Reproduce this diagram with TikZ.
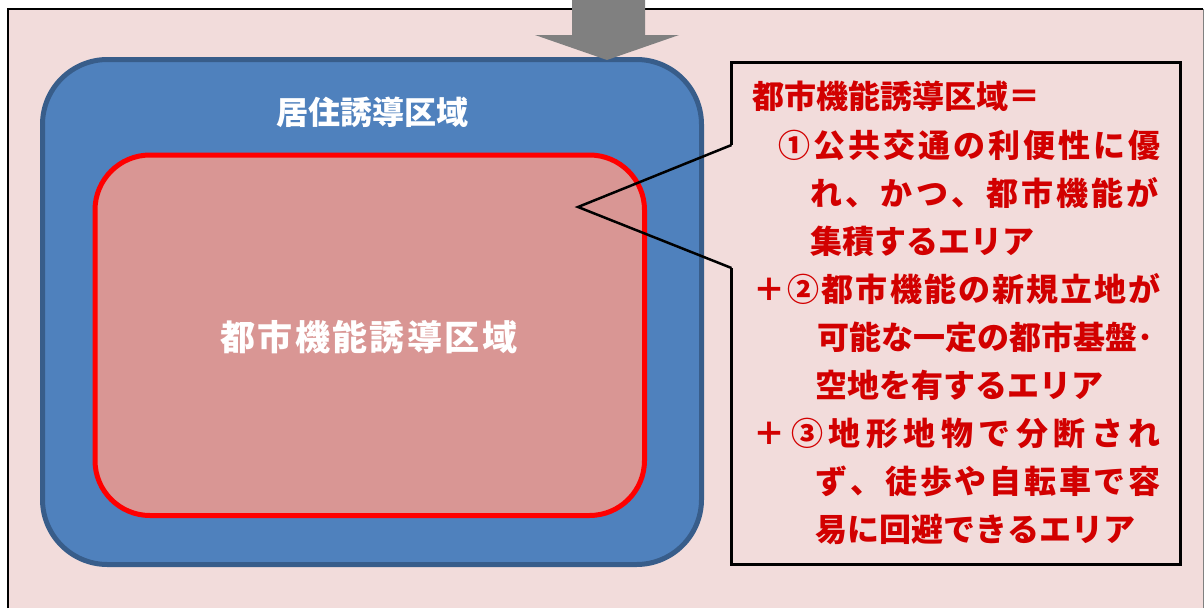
\documentclass[tikz,border=0pt]{standalone}
\usepackage{fontspec}
\newfontfamily\cjk{Noto Sans CJK JP}
\definecolor{bgpink}{HTML}{F2DCDB}
\definecolor{bluefill}{HTML}{4F81BD}
\definecolor{blueline}{HTML}{385D8A}
\definecolor{redfill}{HTML}{D99694}
\definecolor{txtred}{RGB}{210,0,0}
\definecolor{arrowgray}{HTML}{808080}
\def\sprA#1{\ifx#1\relax\else#1\expandafter\sprB\fi}
\def\sprB#1{\ifx#1\relax\else\hfil#1\expandafter\sprB\fi}
\newcommand\spreadto[2]{\hbox to #1{\sprA#2\relax}}
\tikzset{
  bluebox/.style={draw=blueline, fill=bluefill, line width=5pt, rounded corners=65pt, inner sep=0pt, outer sep=0pt},
  redbox/.style={draw=red, fill=redfill, line width=5pt, rounded corners=55pt, inner sep=0pt, outer sep=0pt},
  redtxt/.style={anchor=base west, inner sep=0pt, text=txtred, font=\cjk\bfseries\fontsize{32}{32}\selectfont},
  whitetxt/.style={inner sep=0pt, text=white, font=\cjk\bfseries\fontsize{32}{32}\selectfont},
  calloutline/.style={draw=black, line width=3pt, line join=miter},
}
\begin{document}
\begin{tikzpicture}[x=1pt, y=-1pt]
\useasboundingbox (0,0) rectangle (1204,608);
% background frame
\fill[bgpink] (8,9) rectangle (1203,608);
\draw[black, line width=1.8pt] (8,608) -- (8,9) -- (1203,9);
\draw[gray, line width=1pt] (1203,9) -- (1203,608);
% areas
\node[bluebox, minimum width=659pt, minimum height=505pt] (res) at (372,312) {};
\node[redbox, minimum width=549.5pt, minimum height=360.5pt] (urb) at (369.75,335.25) {};
\node[whitetxt, anchor=base] (reslabel) at (372.5,124.5) {居住誘導区域};
\node[whitetxt, anchor=base west, font=\cjk\bfseries\fontsize{35}{35}\selectfont] (urblabel) at (220,350) {\spreadto{297pt}{都市機能誘導区域}};
% arrow
\fill[arrowgray] (572,0) -- (645,0) -- (645,35) -- (679,35) -- (607,60) -- (535,35) -- (572,35) -- cycle;
% callout
\coordinate (tip) at (578,207);
\draw[calloutline] (731.5,145) -- (731.5,62) -- (1180.5,62) -- (1180.5,564) -- (731.5,564) -- (731.5,268);
\draw[black, line width=2.5pt, line join=miter] (731.5,145) -- (tip) -- (731.5,268);
% text
\node[redtxt] (l1) at (752,108) {都市機能誘導区域＝};
\node[redtxt] (l2) at (778.5,157) {\spreadto{382pt}{①公共交通の利便性に優}};
\node[redtxt] (l3) at (810.5,205) {\spreadto{348pt}{れ、かつ、都市機能が}};
\node[redtxt] (l4) at (810.5,253) {集積するエリア};
\node[redtxt] (l5) at (753.5,301) {\spreadto{407pt}{＋②都市機能の新規立地が}};
\node[redtxt] (l6) at (817.5,349) {可能な一定の都市基盤･};
\node[redtxt] (l7) at (815.5,397) {空地を有するエリア};
\node[redtxt] (l8) at (753.5,445) {\spreadto{407pt}{＋③地形地物で分断され}};
\node[redtxt] (l9) at (815.5,493) {\spreadto{345pt}{ず、徒歩や自転車で容}};
\node[redtxt] (l10) at (815.5,541) {易に回避できるエリア};
\end{tikzpicture}
\end{document}
